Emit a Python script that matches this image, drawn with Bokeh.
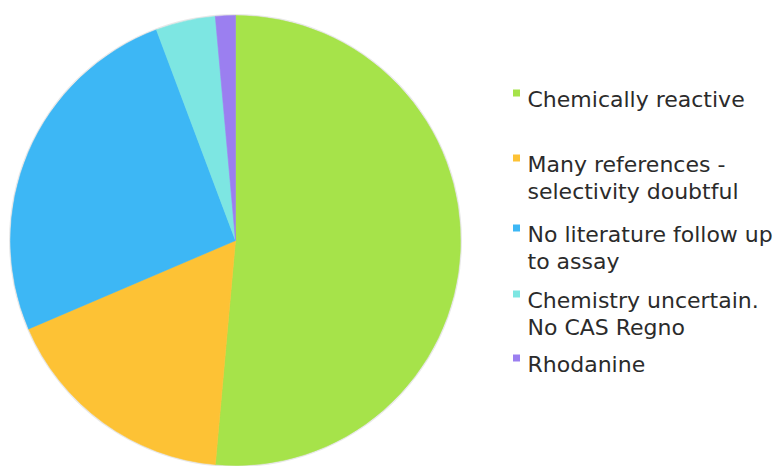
import math
from bokeh.plotting import figure
from bokeh.models import ColumnDataSource
from bokeh.core.properties import value
from bokeh.embed import file_html
from bokeh.resources import INLINE

# Data
categories = ["Chemically reactive", "Many references -\nselectivity doubtful",
              "No literature follow up\nto assay", "Chemistry uncertain.\nNo CAS Regno",
              "Rhodanine"]
counts = [36, 12, 18, 3, 1]
colors = ["#A6E34A", "#FDC235", "#3DB7F5", "#7DE6E2", "#9B7FF0"]

W, H = 776, 466
p = figure(width=W, height=H, x_range=(0, W), y_range=(0, H),
           output_backend="svg", toolbar_location=None, min_border=0,
           outline_line_color=None, background_fill_color="white")
p.axis.visible = False
p.grid.visible = False

total = sum(counts)
starts, ends = [], []
cum = 0.0
for c in counts:
    starts.append(math.pi / 2 - cum / total * 2 * math.pi)
    cum += c
    ends.append(math.pi / 2 - cum / total * 2 * math.pi)

cx, cy, r = 235, H - 240, 225
src = ColumnDataSource(dict(start=starts, end=ends, color=colors))
# faint shadow edge
p.circle(x=[cx], y=[cy], radius=r + 1.5, fill_color="#d8d8d8", line_color=None, fill_alpha=0.6)
p.wedge(x=cx, y=cy, radius=r, start_angle="start", end_angle="end", direction="clock",
        fill_color="color", line_color="color", line_width=0.6, source=src)

# Legend (manual)
sq_x = 516
txt_x = 527
tops = [89, 154, 224, 290, 354]  # pixel y of square tops
for i, (lab, col) in enumerate(zip(categories, colors)):
    top = tops[i]
    p.rect(x=[sq_x], y=[H - (top + 3.5)], width=7, height=7, fill_color=col, line_color=None)
    p.text(x=[txt_x], y=[H - (top - 3)], text=[lab], text_font=value("DejaVu Sans"),
           text_font_size="22px", text_color="#2b2b2b", text_baseline="top",
           text_align="left", text_line_height=1.1)

open("out.html", "w").write(file_html(p, INLINE))
